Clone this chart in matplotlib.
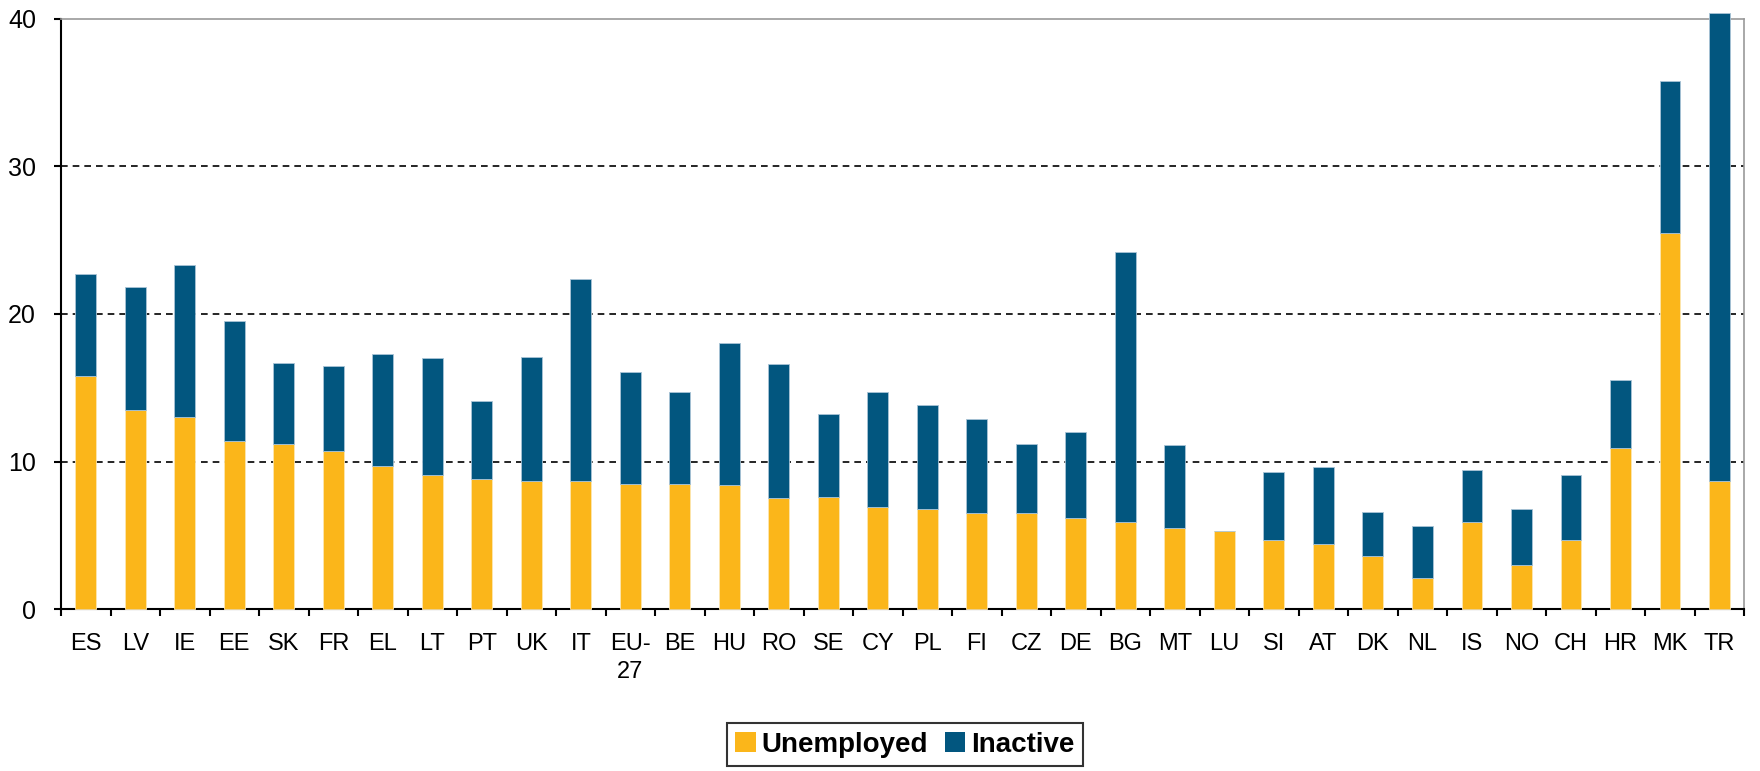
import matplotlib.pyplot as plt
import numpy as np

countries = ['ES', 'LV', 'IE', 'EE', 'SK', 'FR', 'EL', 'LT', 'PT', 'UK', 'IT', 'EU-\n27',
             'BE', 'HU', 'RO', 'SE', 'CY', 'PL', 'FI', 'CZ', 'DE', 'BG', 'MT', 'LU',
             'SI', 'AT', 'DK', 'NL', 'IS', 'NO', 'CH', 'HR', 'MK', 'TR']
unemployed = [15.8, 13.5, 13.0, 11.4, 11.2, 10.7, 9.7, 9.1, 8.8, 8.7, 8.7, 8.5,
              8.5, 8.4, 7.5, 7.6, 6.9, 6.8, 6.5, 6.5, 6.2, 5.9, 5.5, 5.3,
              4.7, 4.4, 3.6, 2.1, 5.9, 3.0, 4.7, 10.9, 25.5, 8.7]
total = [22.7, 21.8, 23.3, 19.5, 16.7, 16.5, 17.3, 17.0, 14.1, 17.1, 22.4, 16.1,
         14.7, 18.0, 16.6, 13.2, 14.7, 13.8, 12.9, 11.2, 12.0, 24.2, 11.1, 5.3,
         9.3, 9.6, 6.6, 5.6, 9.4, 6.8, 9.1, 15.5, 35.8, 40.4]
inactive = [t - u for t, u in zip(total, unemployed)]

yellow = '#FBB61A'
blue = '#02567F'

fig = plt.figure(figsize=(17.6, 7.71), dpi=100)
ax = fig.add_axes([0.0347, 0.2101, 0.9563, 0.7653])

x = np.arange(len(countries))
w = 0.42
b1 = ax.bar(x, unemployed, w, color=yellow, edgecolor='#fde6b0', linewidth=0.6,
            label='Unemployed', zorder=3, clip_on=False)
b2 = ax.bar(x, inactive, w, bottom=unemployed, color=blue, edgecolor='#a9c4d6',
            linewidth=0.6, label='Inactive', zorder=3, clip_on=False)

ax.set_xlim(-0.5, len(countries) - 0.5)
ax.set_ylim(0, 40)
ax.set_yticks([0, 10, 20, 30, 40])
ax.set_xticks(x)
ax.set_xticklabels(countries, fontsize=17, family='Liberation Sans', linespacing=1.4,
                   va='top')
ax.set_xticks(np.arange(len(countries) + 1) - 0.5, minor=True)
ax.tick_params(axis='x', which='major', length=0, pad=17)
ax.tick_params(axis='x', which='minor', length=5, width=1.5, direction='out')
ax.tick_params(axis='y', length=5, width=1.5, direction='out', labelsize=18, pad=13)
for lab in ax.get_yticklabels():
    lab.set_family('Liberation Sans')

for yv in [10, 20, 30]:
    ax.axhline(yv, color='black', linestyle=(0, (4, 3)), linewidth=1.2, zorder=1)

ax.spines['left'].set_linewidth(1.5)
ax.spines['bottom'].set_linewidth(1.5)
ax.spines['top'].set_color('#999999')
ax.spines['right'].set_color('#999999')
ax.spines['top'].set_linewidth(1.2)
ax.spines['right'].set_linewidth(1.2)

leg = fig.legend(handles=[b1, b2], loc='center', bbox_to_anchor=(0.514, 0.034),
                 ncol=2, frameon=True, fancybox=False, edgecolor='black',
                 prop={'weight': 'bold', 'size': 20, 'family': 'Liberation Sans'},
                 handlelength=0.75, handleheight=0.75, handletextpad=0.2,
                 columnspacing=0.6, borderpad=0.3, borderaxespad=0)
leg.get_frame().set_linewidth(1.5)
for h in leg.legend_handles:
    h.set_edgecolor('none')

fig.savefig('out.png', dpi=100)
